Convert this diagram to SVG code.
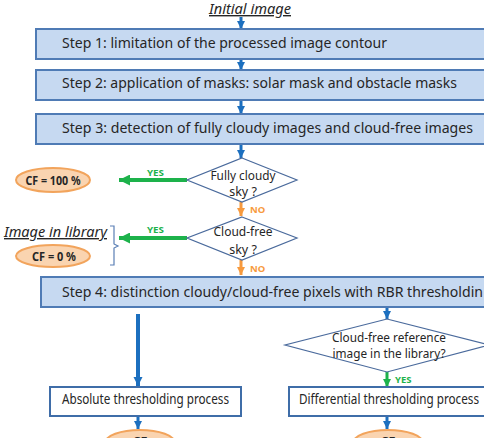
<svg xmlns="http://www.w3.org/2000/svg" width="484" height="438" viewBox="0 0 484 438">
<style>
  text { font-family: "Noto Sans", "Liberation Sans", sans-serif; fill: #262626; }
  .step { fill: #C6D9F1; stroke: #4F7BB5; stroke-width: 2; }
  .stept { font-size: 14.5px; }
  .proc { fill: #FFFFFF; stroke: #3F6DA8; stroke-width: 2; }
  .procT { font-size: 13.5px; }
  .dia { fill: #FFFFFF; stroke: #4A6A9C; stroke-width: 1.2; }
  .diaT { font-size: 12.5px; }
  .diaS { font-size: 12px; }
  .cf { fill: #FAD4B0; stroke: #F2A45C; stroke-width: 2; }
  .cfT { font-size: 12.5px; font-weight: bold; }
  .blue { stroke: #1C6FBF; stroke-width: 3; fill: none; }
  .blueBig { stroke: #1C6FBF; stroke-width: 4; fill: none; }
  .green { stroke: #1DB24B; stroke-width: 4; fill: none; }
  .greenS { stroke: #1DB24B; stroke-width: 3; fill: none; }
  .orange { stroke: #F79A3E; stroke-width: 3; fill: none; }
  .yes { font-size: 9.5px; font-weight: bold; fill: #1DB24B; }
  .no { font-size: 9.5px; font-weight: bold; fill: #F79A3E; }
  .ital { font-style: italic; font-size: 14px; text-decoration: underline; }
</style>
<defs>
  <marker id="ab" viewBox="0 0 10 10" refX="10" refY="5" markerUnits="userSpaceOnUse" markerWidth="10" markerHeight="8" orient="auto"><path d="M0,0 L10,5 L0,10 z" fill="#1C6FBF"/></marker>
  <marker id="abBig" viewBox="0 0 10 10" refX="10" refY="5" markerUnits="userSpaceOnUse" markerWidth="9" markerHeight="11" orient="auto"><path d="M0,0 L10,5 L0,10 z" fill="#1C6FBF"/></marker>
  <marker id="ag" viewBox="0 0 10 10" refX="10" refY="5" markerUnits="userSpaceOnUse" markerWidth="13" markerHeight="11" orient="auto"><path d="M0,0 L10,5 L0,10 z" fill="#1DB24B"/></marker>
  <marker id="agS" viewBox="0 0 10 10" refX="10" refY="5" markerUnits="userSpaceOnUse" markerWidth="8" markerHeight="9" orient="auto"><path d="M0,0 L10,5 L0,10 z" fill="#1DB24B"/></marker>
  <marker id="ao" viewBox="0 0 10 10" refX="10" refY="5" markerUnits="userSpaceOnUse" markerWidth="8" markerHeight="10" orient="auto"><path d="M0,0 L10,5 L0,10 z" fill="#F79A3E"/></marker>
</defs>

<g id="connectors">
  <line class="blue" x1="241" y1="17" x2="241" y2="29" marker-end="url(#ab)"/>
  <line class="blue" x1="241" y1="60" x2="241" y2="70" marker-end="url(#ab)"/>
  <line class="blue" x1="241" y1="101" x2="241" y2="114" marker-end="url(#ab)"/>
  <line class="blue" x1="241" y1="145" x2="241" y2="158" marker-end="url(#ab)"/>
  <line class="orange" x1="241" y1="202" x2="241" y2="216" marker-end="url(#ao)"/>
  <line class="orange" x1="241" y1="260" x2="241" y2="275" marker-end="url(#ao)"/>
  <line class="green" x1="187" y1="180" x2="119" y2="180" marker-end="url(#ag)"/>
  <line class="green" x1="187" y1="238" x2="119" y2="238" marker-end="url(#ag)"/>
  <text class="yes" x="147" y="176" textLength="17" lengthAdjust="spacingAndGlyphs">YES</text>
  <text class="yes" x="147" y="233" textLength="17" lengthAdjust="spacingAndGlyphs">YES</text>
  <text class="no" x="250" y="213">NO</text>
  <text class="no" x="250" y="272">NO</text>
  <path d="M110,226 L114,226 L114,244 L118,246 L114,248 L114,265 L110,265" fill="none" stroke="#5A7FB5" stroke-width="1.2"/>
  <line class="blueBig" x1="138" y1="314" x2="138" y2="386" marker-end="url(#abBig)"/>
  <line class="blue" x1="138" y1="417" x2="138" y2="429" marker-end="url(#ab)"/>
  <line class="blue" x1="387" y1="308" x2="387" y2="319" marker-end="url(#ab)"/>
  <line class="greenS" x1="387" y1="372" x2="387" y2="387" marker-end="url(#agS)"/>
  <text class="yes" x="395" y="383">YES</text>
  <line class="blue" x1="387" y1="417" x2="387" y2="429" marker-end="url(#ab)"/>
</g>

<g id="initial">
  <text class="ital" x="250" y="14" text-anchor="middle" textLength="82" lengthAdjust="spacingAndGlyphs">Initial image</text>
</g>

<g id="step1">
  <rect class="step" x="36" y="29" width="470" height="30"/>
  <text class="stept" x="62" y="48" textLength="325" lengthAdjust="spacingAndGlyphs">Step 1: limitation of the processed image contour</text>
</g>
<g id="step2">
  <rect class="step" x="36" y="70" width="470" height="30"/>
  <text class="stept" x="62" y="88" textLength="395" lengthAdjust="spacingAndGlyphs">Step 2: application of masks: solar mask and obstacle masks</text>
</g>
<g id="step3">
  <rect class="step" x="36" y="114" width="470" height="30"/>
  <text class="stept" x="62" y="133" textLength="411" lengthAdjust="spacingAndGlyphs">Step 3: detection of fully cloudy images and cloud-free images</text>
</g>

<g id="fullyCloudy">
  <polygon class="dia" points="242,158 297,180 242,202 187,180"/>
  <text class="diaT" x="243" y="180" text-anchor="middle" textLength="65" lengthAdjust="spacingAndGlyphs">Fully cloudy</text>
  <text class="diaT" x="243" y="196" text-anchor="middle">sky ?</text>
</g>
<g id="cloudFree">
  <polygon class="dia" points="242,217 297,238 242,260 187,238"/>
  <text class="diaT" x="243" y="236" text-anchor="middle" textLength="59" lengthAdjust="spacingAndGlyphs">Cloud-free</text>
  <text class="diaT" x="243" y="254" text-anchor="middle">sky ?</text>
</g>

<g id="cf100">
  <ellipse class="cf" cx="53" cy="180" rx="37" ry="12"/>
  <text class="cfT" x="53" y="185" text-anchor="middle" textLength="55" lengthAdjust="spacingAndGlyphs">CF = 100 %</text>
</g>
<g id="library">
  <text class="ital" x="4" y="237" textLength="103" lengthAdjust="spacingAndGlyphs">Image in library</text>
</g>
<g id="cf0">
  <ellipse class="cf" cx="53" cy="256" rx="37" ry="11"/>
  <text class="cfT" x="54" y="261" text-anchor="middle" textLength="44" lengthAdjust="spacingAndGlyphs">CF = 0 %</text>
</g>

<g id="step4">
  <rect class="step" x="41" y="277" width="470" height="30"/>
  <text class="stept" x="62" y="297" textLength="421" lengthAdjust="spacingAndGlyphs">Step 4: distinction cloudy/cloud-free pixels with RBR thresholdin</text>
</g>

<g id="refLibrary">
  <polygon class="dia" points="387,319 489,345 387,372 285,345"/>
  <text class="diaS" x="389" y="342" text-anchor="middle" textLength="114" lengthAdjust="spacingAndGlyphs">Cloud-free reference</text>
  <text class="diaS" x="389" y="358" text-anchor="middle" textLength="113" lengthAdjust="spacingAndGlyphs">image in the library?</text>
</g>

<g id="absolute">
  <rect class="proc" x="50" y="387" width="191" height="29"/>
  <text class="procT" x="145.5" y="404" text-anchor="middle" textLength="167" lengthAdjust="spacingAndGlyphs">Absolute thresholding process</text>
</g>
<g id="differential">
  <rect class="proc" x="289" y="387" width="210" height="29"/>
  <text class="procT" x="299" y="404" textLength="180" lengthAdjust="spacingAndGlyphs">Differential thresholding process</text>
</g>

<g id="cfAbsolute">
  <ellipse class="cf" cx="140" cy="443" rx="35" ry="13"/>
  <text class="cfT" x="140" y="446" text-anchor="middle">CF</text>
</g>
<g id="cfDifferential">
  <ellipse class="cf" cx="388" cy="443" rx="35" ry="13"/>
  <text class="cfT" x="388" y="446" text-anchor="middle">CF</text>
</g>
</svg>
